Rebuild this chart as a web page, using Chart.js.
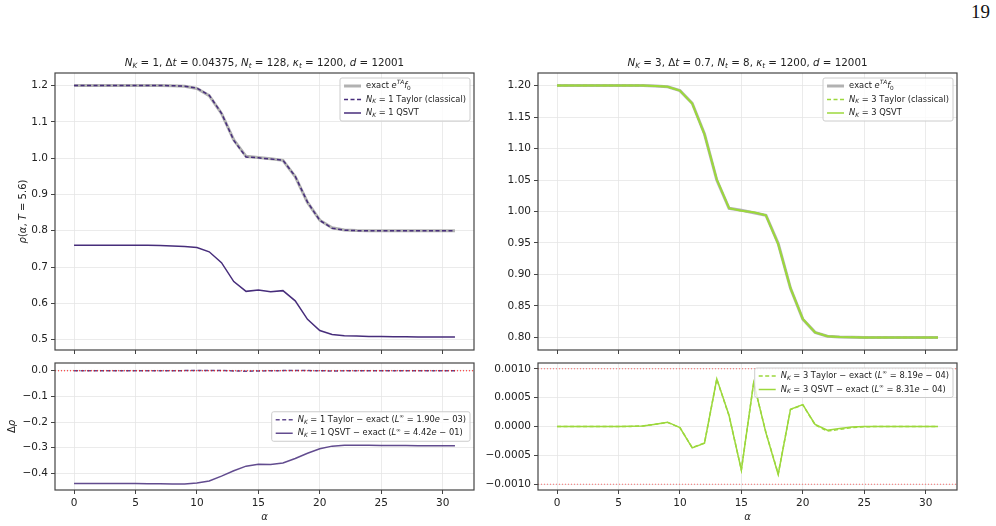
<!DOCTYPE html>
<html>
<head>
<meta charset="utf-8">
<script src="https://cdn.jsdelivr.net/npm/chart.js@4.4.1/dist/chart.umd.min.js"></script>
<style>
  html, body { margin: 0; padding: 0; background: #fff; }
  body { width: 996px; height: 526px; position: relative; overflow: hidden; }
  .panel { position: absolute; }
  #pageno { position: absolute; left: 950px; top: 1px; width: 40px; text-align: right;
            font: 19px "Liberation Serif", serif; color: #111; }
</style>
</head>
<body>
<div id="pageno">19</div>
<div class="panel" style="left:0;top:0;width:490px;height:360px"><canvas id="tl"></canvas></div>
<div class="panel" style="left:470px;top:0;width:526px;height:360px"><canvas id="tr"></canvas></div>
<div class="panel" style="left:0;top:350px;width:490px;height:176px"><canvas id="bl"></canvas></div>
<div class="panel" style="left:470px;top:350px;width:526px;height:176px"><canvas id="br"></canvas></div>
<script>
// density at T = 5.6 against alpha
const alpha = [0, 1, 2, 3, 4, 5, 6, 7, 8, 9, 10, 11, 12, 13, 14, 15,
  16, 17, 18, 19, 20, 21, 22, 23, 24, 25, 26, 27, 28, 29, 30, 31];

const exactRho = [1.2, 1.2, 1.2, 1.2, 1.2, 1.2, 1.2, 1.2, 1.1995, 1.198, 1.192, 1.172, 1.123, 1.050, 1.005, 1.002,
  0.998, 0.994, 0.949, 0.878, 0.829, 0.808, 0.802, 0.8005, 0.8002, 0.8, 0.8, 0.8, 0.8, 0.8, 0.8, 0.8];

// N_K = 1 panel
const taylorRhoK1 = [1.2, 1.2, 1.2, 1.2, 1.2, 1.2, 1.2, 1.2, 1.1996, 1.1983, 1.1928, 1.1732, 1.1236, 1.0489, 1.0031, 1.0008,
  0.9976, 0.9943, 0.9500, 0.8787, 0.8285, 0.8071, 0.8014, 0.8003, 0.8002, 0.8, 0.8, 0.8, 0.8, 0.8, 0.8, 0.8];
const qsvtRhoK1 = [0.760, 0.760, 0.760, 0.760, 0.760, 0.760, 0.7598, 0.7595, 0.758, 0.7565, 0.754, 0.742, 0.712, 0.660, 0.633, 0.637,
  0.632, 0.635, 0.607, 0.556, 0.525, 0.514, 0.511, 0.510, 0.509, 0.5085, 0.508, 0.508, 0.5075, 0.5075, 0.507, 0.507];
const taylorDiffK1 = [0, 0, 0, 0, 0, 0, 0, 0, 0.0001, 0.0003, 0.0008, 0.0012, 0.0006, -0.0011, -0.0019, -0.0012,
  -0.0004, 0.0003, 0.0010, 0.0007, -0.0005, -0.0009, -0.0006, -0.0002, 0, 0, 0, 0, 0, 0, 0, 0];
const qsvtDiffK1 = [-0.440, -0.440, -0.440, -0.440, -0.440, -0.440, -0.4402, -0.4405, -0.4412, -0.4415, -0.438, -0.430, -0.411, -0.390, -0.372, -0.365,
  -0.366, -0.360, -0.342, -0.322, -0.304, -0.294, -0.291, -0.2905, -0.291, -0.2915, -0.292, -0.292, -0.2925, -0.2925, -0.293, -0.293];

// N_K = 3 panel
const taylorRhoK3 = [1.2, 1.2, 1.2, 1.2, 1.2, 1.2, 1.2, 1.2, 1.1995, 1.1981, 1.1920, 1.1716, 1.1227, 1.0508, 1.0052, 1.0012,
  0.9988, 0.9939, 0.9482, 0.8783, 0.8294, 0.8080, 0.8019, 0.8005, 0.8002, 0.8, 0.8, 0.8, 0.8, 0.8, 0.8, 0.8];
const qsvtRhoK3 = [1.2, 1.2, 1.2, 1.2, 1.2, 1.2, 1.2, 1.2, 1.1995, 1.1981, 1.1920, 1.1716, 1.1227, 1.0508, 1.0052, 1.0012,
  0.9988, 0.9939, 0.9482, 0.8783, 0.8294, 0.8080, 0.8019, 0.8005, 0.8002, 0.8, 0.8, 0.8, 0.8, 0.8, 0.8, 0.8];
const taylorDiffK3 = [0, 0, 0, 0, 0, 0, 0.000002, 0.00001, 0.00004, 0.00007, -0.00002, -0.000365, -0.000285, 0.000819, 0.000185, -0.00075,
  0.000755, -0.000105, -0.000819, 0.000295, 0.000375, 0.00003, -0.00008, -0.00005, -0.00002, -0.000005, 0, 0, 0, 0, 0, 0];
const qsvtDiffK3 = [0, 0, 0, 0, 0, 0, 0.000003, 0.00001, 0.00004, 0.000075, -0.00002, -0.00037, -0.00029, 0.000825, 0.00019, -0.000755,
  0.00076, -0.00011, -0.000831, 0.0003, 0.00038, 0.000035, -0.000065, -0.000035, -0.00001, 0, 0, 0, 0, 0, 0, 0];

const tolLevel = 0.001;

const xTicks = [0, 5, 10, 15, 20, 25, 30];
const yTicksTL = [0.5, 0.6, 0.7, 0.8, 0.9, 1.0, 1.1, 1.2];
const yTicksBL = [-0.4, -0.3, -0.2, -0.1, 0.0];
const yTicksTR = [0.80, 0.85, 0.90, 0.95, 1.00, 1.05, 1.10, 1.15, 1.20];
const yTicksBR = [-0.0010, -0.0005, 0.0000, 0.0005, 0.0010];

const xRange = [-1.55, 32.55];

const PURPLE = '#472d7b';
const PURPLE_SOFT = 'rgba(71,45,123,0.85)';
const GREEN = '#9cd83c';
const GREY = 'rgba(165,165,165,0.85)';
const FONT = '"DejaVu Sans", sans-serif';

Chart.defaults.font.family = FONT;
Chart.defaults.font.size = 10.5;
Chart.defaults.color = '#222';

// tiny mathtext-ish renderer: $...$ makes letters italic, _x / ^{..} sub/superscripts
function richSegs(str) {
  const out = [];
  let math = false;
  for (let i = 0; i < str.length; i++) {
    const c = str[i];
    if (c === '$') { math = !math; continue; }
    if (math && (c === '_' || c === '^')) {
      const pos = c === '_' ? 1 : -1;
      let s;
      if (str[i + 1] === '{') { const j = str.indexOf('}', i); s = str.slice(i + 2, j); i = j; }
      else { s = str[i + 1]; i++; }
      for (const ch of s) out.push({ ch, it: /[a-zA-Zα-ω]/.test(ch), pos });
      continue;
    }
    out.push({ ch: c, it: math && /[a-zA-Zα-ω]/.test(c), pos: 0 });
  }
  return out;
}

function fontOf(s, size) {
  return `${s.it ? 'italic ' : ''}${s.pos ? size * 0.7 : size}px ${FONT}`;
}

function measureRich(ctx, str, size) {
  let w = 0;
  richSegs(str).forEach(s => { ctx.font = fontOf(s, size); w += ctx.measureText(s.ch).width; });
  return w;
}

function drawRich(ctx, str, x, y, o) {
  const size = o.size || 10;
  const segs = richSegs(str);
  let w = 0;
  segs.forEach(s => { ctx.font = fontOf(s, size); s.w = ctx.measureText(s.ch).width; w += s.w; });
  ctx.save();
  ctx.translate(x, y);
  if (o.rot) ctx.rotate(o.rot);
  ctx.fillStyle = o.color || '#222';
  ctx.textBaseline = 'middle';
  ctx.textAlign = 'left';
  let cx = o.align === 'center' ? -w / 2 : o.align === 'right' ? -w : 0;
  segs.forEach(s => {
    ctx.font = fontOf(s, size);
    const dy = s.pos > 0 ? size * 0.28 : s.pos < 0 ? -size * 0.38 : 0;
    ctx.fillText(s.ch, cx, dy);
    cx += s.w;
  });
  ctx.restore();
}

function drawLegend(ctx, a, L) {
  const size = 8.3, rowH = 13.5;
  const tw = Math.max(...L.items.map(it => measureRich(ctx, it.label, size)));
  const w = tw + 30, h = 16 + (L.items.length - 1) * rowH;
  const x = a.right - 4 - w;
  const y = L.center ? (a.top + a.bottom) / 2 - h / 2 : a.top + 5;
  ctx.save();
  ctx.beginPath();
  if (ctx.roundRect) ctx.roundRect(x, y, w, h, 2); else ctx.rect(x, y, w, h);
  ctx.fillStyle = 'rgba(255,255,255,0.8)';
  ctx.fill();
  ctx.strokeStyle = '#cccccc';
  ctx.lineWidth = 1;
  ctx.stroke();
  L.items.forEach((it, i) => {
    const ry = y + 8 + i * rowH;
    ctx.beginPath();
    ctx.setLineDash(it.dash || []);
    ctx.strokeStyle = it.color;
    ctx.lineWidth = it.width;
    ctx.moveTo(x + 4, ry);
    ctx.lineTo(x + 21, ry);
    ctx.stroke();
    ctx.setLineDash([]);
    drawRich(ctx, it.label, x + 26, ry, { size });
  });
  ctx.restore();
}

function makeDecor(d) {
  return {
    id: 'decor',
    afterDraw(chart) {
      const { ctx, chartArea: a } = chart;
      ctx.save();
      ctx.strokeStyle = '#444';
      ctx.lineWidth = 1.2;
      ctx.strokeRect(a.left, a.top, a.right - a.left, a.bottom - a.top);
      if (d.title) drawRich(ctx, d.title, (a.left + a.right) / 2, a.top - 10, { size: 10.3, align: 'center' });
      if (d.ylabel) drawRich(ctx, d.ylabel, d.ylabelX, (a.top + a.bottom) / 2, { size: 10, align: 'center', rot: -Math.PI / 2 });
      if (d.xlabel) drawRich(ctx, d.xlabel, (a.left + a.right) / 2, d.xlabelY, { size: 10, align: 'center' });
      if (d.legend) drawLegend(ctx, a, d.legend);
      ctx.restore();
    }
  };
}

const pts = ys => ys.map((y, i) => ({ x: alpha[i], y }));
const fmt = d => v => (v < 0 ? '\u2212' : '') + Math.abs(v).toFixed(d);

function line(data, color, width, order, dash) {
  return {
    data: pts(data), borderColor: color, borderWidth: width, borderDash: dash || [],
    pointRadius: 0, tension: 0, fill: false, order
  };
}

function tolLine(y) {
  return {
    data: [{ x: xRange[0], y }, { x: xRange[1], y }], borderColor: 'rgba(255,0,0,0.7)',
    borderWidth: 0.8, borderDash: [1, 2], pointRadius: 0, fill: false, order: 0
  };
}

function makeChart(id, p) {
  const gridStyle = { color: '#e6e6e6', lineWidth: 0.8, tickColor: '#444', tickLength: 4, tickWidth: 1 };
  return new Chart(document.getElementById(id), {
    type: 'line',
    data: { datasets: p.datasets },
    options: {
      responsive: true,
      maintainAspectRatio: false,
      animation: false,
      events: [],
      layout: { padding: p.padding },
      plugins: { legend: { display: false }, tooltip: { enabled: false } },
      scales: {
        x: {
          type: 'linear', min: xRange[0], max: xRange[1],
          grid: gridStyle, border: { display: false },
          ticks: { display: p.xLabels, autoSkip: false, maxRotation: 0, padding: 3, callback: v => String(v) },
          afterBuildTicks: s => { s.ticks = xTicks.map(v => ({ value: v })); },
          afterFit: s => { s.height = p.xHeight; }
        },
        y: {
          min: p.yRange[0], max: p.yRange[1],
          grid: gridStyle, border: { display: false },
          ticks: { padding: 3, callback: fmt(p.yDigits) },
          afterBuildTicks: s => { s.ticks = p.yTicks.map(v => ({ value: v })); },
          afterFit: s => { s.width = p.yWidth; }
        }
      }
    },
    plugins: [makeDecor(p.decor)]
  });
}

makeChart('tl', {
  padding: { top: 73, right: 16 }, xHeight: 10, yWidth: 55, xLabels: false,
  yRange: [0.4715, 1.2345], yTicks: yTicksTL, yDigits: 1,
  datasets: [
    line(exactRho, GREY, 3, 3),
    line(taylorRhoK1, PURPLE, 1.5, 2, [4, 2.5]),
    line(qsvtRhoK1, PURPLE, 1.5, 1)
  ],
  decor: {
    title: '$N_K$ = 1, Δ$t$ = 0.04375, $N_t$ = 128, $κ_t$ = 1200, $d$ = 12001',
    ylabel: '$ρ$($α$, $T$ = 5.6)', ylabelX: 23,
    legend: { items: [
      { label: 'exact $e^{TA}f_0$', color: GREY, width: 3 },
      { label: '$N_K$ = 1 Taylor (classical)', color: PURPLE, width: 1.5, dash: [4, 2.5] },
      { label: '$N_K$ = 1 QSVT', color: PURPLE, width: 1.5 }
    ] }
  }
});

makeChart('tr', {
  padding: { top: 73, right: 39 }, xHeight: 10, yWidth: 68, xLabels: false,
  yRange: [0.78, 1.22], yTicks: yTicksTR, yDigits: 2,
  datasets: [
    line(exactRho, GREY, 3, 3),
    line(taylorRhoK3, GREEN, 1.5, 2, [4, 2.5]),
    line(qsvtRhoK3, GREEN, 2, 1)
  ],
  decor: {
    title: '$N_K$ = 3, Δ$t$ = 0.7, $N_t$ = 8, $κ_t$ = 1200, $d$ = 12001',
    legend: { items: [
      { label: 'exact $e^{TA}f_0$', color: GREY, width: 3 },
      { label: '$N_K$ = 3 Taylor (classical)', color: GREEN, width: 1.5, dash: [4, 2.5] },
      { label: '$N_K$ = 3 QSVT', color: GREEN, width: 1.5 }
    ] }
  }
});

makeChart('bl', {
  padding: { top: 13, right: 16 }, xHeight: 36, yWidth: 55, xLabels: true,
  yRange: [-0.465, 0.030], yTicks: yTicksBL, yDigits: 1,
  datasets: [
    tolLine(tolLevel), tolLine(-tolLevel),
    line(taylorDiffK1, PURPLE_SOFT, 1.5, 2, [4, 2.5]),
    line(qsvtDiffK1, PURPLE_SOFT, 1.5, 1)
  ],
  decor: {
    ylabel: 'Δ$ρ$', ylabelX: 12, xlabel: '$α$', xlabelY: 167,
    legend: { center: true, items: [
      { label: '$N_K$ = 1 Taylor − exact ($L^∞$ = 1.90$e$ − 03)', color: PURPLE_SOFT, width: 1.5, dash: [4, 2.5] },
      { label: '$N_K$ = 1 QSVT − exact ($L^∞$ = 4.42$e$ − 01)', color: PURPLE_SOFT, width: 1.5 }
    ] }
  }
});

makeChart('br', {
  padding: { top: 13, right: 39 }, xHeight: 36, yWidth: 68, xLabels: true,
  yRange: [-0.0011, 0.0011], yTicks: yTicksBR, yDigits: 4,
  datasets: [
    tolLine(tolLevel), tolLine(-tolLevel),
    line(taylorDiffK3, GREEN, 1.5, 2, [4, 2.5]),
    line(qsvtDiffK3, GREEN, 1.5, 1)
  ],
  decor: {
    xlabel: '$α$', xlabelY: 167,
    legend: { items: [
      { label: '$N_K$ = 3 Taylor − exact ($L^∞$ = 8.19$e$ − 04)', color: GREEN, width: 1.5, dash: [4, 2.5] },
      { label: '$N_K$ = 3 QSVT − exact ($L^∞$ = 8.31$e$ − 04)', color: GREEN, width: 1.5 }
    ] }
  }
});
</script>
</body>
</html>
